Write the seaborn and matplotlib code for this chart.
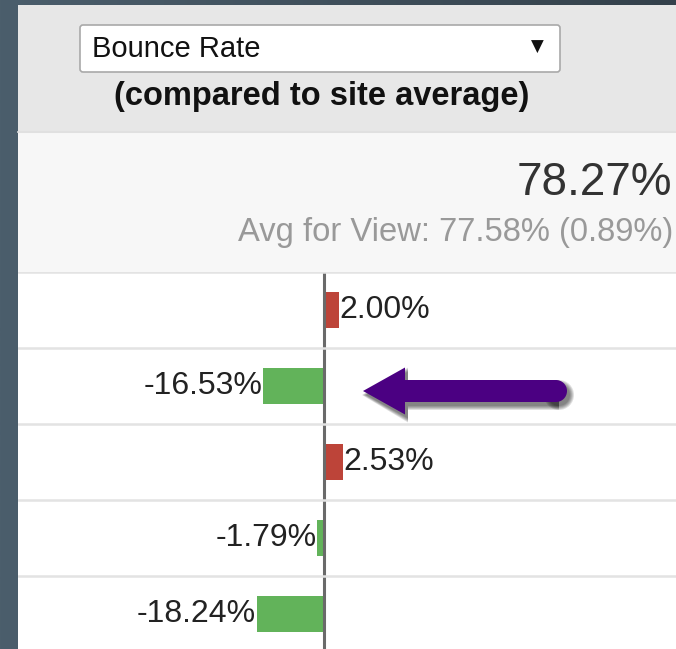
import numpy as np
import pandas as pd
import matplotlib
matplotlib.use("Agg")
import matplotlib.pyplot as plt
import seaborn as sns
from matplotlib.patches import Rectangle, FancyBboxPatch, FancyArrow, Circle
from matplotlib.colors import LinearSegmentedColormap

# ---- data ----
rows = ["row1", "row2", "row3", "row4", "row5"]
changes = [2.00, -16.53, 2.53, -1.79, -18.24]
metric_label = "Bounce Rate"
subtitle = "(compared to site average)"
page_value = "78.27%"
avg_text = "Avg for View: 77.58% (0.89%)"

W, H = 676, 649
sns.set_theme(style="white")
plt.rcParams['font.family'] = ['Liberation Sans', 'DejaVu Sans']

fig = plt.figure(figsize=(W / 100, H / 100), dpi=100)

# background / header panels in pixel coordinates
bg = fig.add_axes([0, 0, 1, 1])
bg.set_xlim(0, W); bg.set_ylim(H, 0); bg.axis('off')
grad = np.linspace(0, 1, 256).reshape(1, -1)
cmap = LinearSegmentedColormap.from_list('bg', ['#4b5e6c', '#34414b'])
bg.imshow(grad, extent=[0, W, H, 0], aspect='auto', cmap=cmap, zorder=0)
bg.add_patch(Rectangle((18, 5), W - 18, 127, fc='#e7e7e7', ec='none', zorder=1))
bg.add_patch(Rectangle((18, 132), W - 18, 140, fc='#f7f7f7', ec='none', zorder=1))
bg.plot([18, W], [132, 132], color='#e0e0e0', lw=1.5, zorder=2)
box = FancyBboxPatch((80, 25), 480, 47, boxstyle='round,pad=0,rounding_size=3',
                     fc='white', ec='#a9a9a9', lw=1.2, zorder=2)
bg.add_patch(box)
bg.text(92, 49, metric_label, fontsize=21, va='center', ha='left', color='#111', zorder=3)
bg.text(537, 47, '\u25BC', fontsize=12, va='center', ha='center',
        family=['DejaVu Sans'], color='#111', zorder=3)
bg.text(322, 96, subtitle, fontsize=23.5, fontweight='bold', ha='center', va='center',
        color='#111', zorder=3)
bg.text(672, 183, page_value, fontsize=33, ha='right', va='center', color='#333', zorder=3)
bg.text(673, 233, avg_text, fontsize=23.6, ha='right', va='center', color='#999', zorder=3)

# ---- bars ----
ax = fig.add_axes([18 / W, 0, (W - 18) / W, 377 / H])
df = pd.DataFrame({'row': rows, 'change': changes})
df['dir'] = np.where(df['change'] >= 0, 'up', 'down')
sns.barplot(data=df, x='change', y='row', hue='dir',
            palette={'up': '#bd4439', 'down': '#62b35a'}, dodge=False, legend=False,
            width=0.47, orient='h', ax=ax, saturation=1, linewidth=0)


def fwd(x):
    x = np.asarray(x, dtype=float)
    return np.where(x < 0, x, 2 * x)


def inv(y):
    y = np.asarray(y, dtype=float)
    return np.where(y < 0, y, y / 2)


ax.set_xscale('function', functions=(fwd, inv))
ax.set_xlim(-(324 - 18) / 3.7, (W - 324) / 3.7 / 2)
ax.set_ylim(-0.5 + 377 / 76, -0.5)
ax.set_facecolor('white')

for c in ax.containers:
    labs = ['' if np.isnan(v) else f"{v:.2f}%" for v in c.datavalues]
    ax.bar_label(c, labels=labs, padding=0.5, fontsize=23, color='#222')

ax.axvline(0, color='#6a6a6a', lw=2.2, zorder=2)
for yy in [-0.5, 0.5, 1.5, 2.5, 3.5]:
    ax.axhline(yy, color='#e3e3e3', lw=1.8, zorder=3)
for s in ax.spines.values():
    s.set_visible(False)
ax.set_xticks([]); ax.set_yticks([])
ax.set_xlabel(''); ax.set_ylabel('')

# ---- annotation arrow (with soft shadow) ----
ov = fig.add_axes([0, 0, 1, 1], zorder=10)
ov.set_xlim(0, W); ov.set_ylim(H, 0); ov.axis('off')


def draw_arrow(dx, dy, col, al, grow=0.0):
    ov.add_patch(FancyArrow(556 + dx, 391 + dy, -193 - grow, 0, width=22 + 2 * grow,
                            head_width=47 + 2 * grow, head_length=42 + grow,
                            length_includes_head=True, fc=col, ec='none', alpha=al))
    ov.add_patch(Circle((556 + dx, 391 + dy), 11 + grow, fc=col, ec='none', alpha=al))


for g in [4, 3, 2, 1, 0]:
    draw_arrow(3, 4, 'black', 0.12, grow=g)
draw_arrow(0, 0, '#4b0082', 1.0)

fig.savefig('out.png', dpi=100)
